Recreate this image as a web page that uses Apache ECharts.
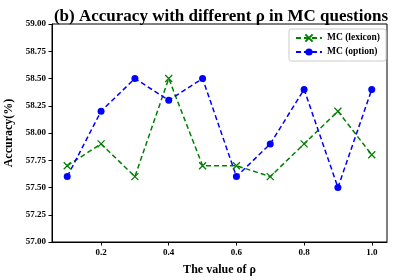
<!DOCTYPE html>
<html><head><meta charset="utf-8">
<script src="https://cdn.jsdelivr.net/npm/echarts@6/dist/echarts.min.js"></script>
<style>html,body{margin:0;padding:0;background:#fff}#c{width:397px;height:280px}</style>
</head><body><div id="c"></div>
<script>
const rhoValues = [0.1, 0.2, 0.3, 0.4, 0.5, 0.6, 0.7, 0.8, 0.9, 1.0];
const lexicon = [57.7, 57.9, 57.6, 58.5, 57.7, 57.7, 57.6, 57.9, 58.2, 57.8];
const option = [57.6, 58.2, 58.5, 58.3, 58.5, 57.6, 57.9, 58.4, 57.5, 58.4];
const xTicks = [0.2, 0.4, 0.6, 0.8, 1.0];
const seriesNames = ['MC (lexicon)', 'MC (option)'];

const font = 'Liberation Serif';
const chart = echarts.init(document.getElementById('c'), null, {renderer: 'canvas'});
const pair = (ys) => rhoValues.map((x, i) => [x, ys[i]]);
chart.setOption({
  animation: false,
  textStyle: {fontFamily: font},
  title: {
    text: '(b) Accuracy with different ρ in MC questions',
    left: 216, textAlign: 'center', top: 3,
    textStyle: {fontFamily: font, fontWeight: 'bold', fontSize: 17, color: '#000'}
  },
  grid: {left: 52, right: 10, top: 24, bottom: 38, show: true, borderColor: '#000', borderWidth: 1, outerBoundsMode: 'none', containLabel: false},
  legend: {
    right: 11, top: 29, orient: 'vertical',
    backgroundColor: '#fff', borderColor: '#ccc', borderWidth: 1, borderRadius: 2,
    padding: [4, 6, 4, 6], itemGap: 4, itemWidth: 26, itemHeight: 9,
    textStyle: {fontFamily: font, fontWeight: 'bold', fontSize: 9.5, color: '#000'},
    data: seriesNames
  },
  xAxis: {
    type: 'value', min: 0.055, max: 1.045,
    name: 'The value of ρ', nameLocation: 'middle', nameGap: 22,
    nameTextStyle: {fontFamily: font, fontWeight: 'bold', fontSize: 12, color: '#000'},
    axisLine: {show: true, lineStyle: {color: '#000'}},
    axisTick: {show: true, customValues: xTicks, length: 3.5, lineStyle: {color: '#000'}},
    axisLabel: {customValues: xTicks, formatter: v => v.toFixed(1), fontFamily: font, fontWeight: 'bold', fontSize: 9, color: '#000', margin: 6},
    splitLine: {show: false}
  },
  yAxis: {
    type: 'value', min: 57, max: 59, interval: 0.25,
    name: 'Accuracy(%)', nameLocation: 'middle', nameGap: 32,
    nameTextStyle: {fontFamily: font, fontWeight: 'bold', fontSize: 12, color: '#000'},
    axisLine: {show: true, lineStyle: {color: '#000'}},
    axisTick: {show: true, length: 3.5, lineStyle: {color: '#000'}},
    axisLabel: {formatter: v => v.toFixed(2), fontFamily: font, fontWeight: 'bold', fontSize: 9, color: '#000', margin: 6},
    splitLine: {show: false}
  },
  series: [
    {
      name: seriesNames[0], type: 'line', data: pair(lexicon),
      symbol: 'path://M0,0L10,10M10,0L0,10', symbolSize: 7,
      itemStyle: {color: '#008000', borderColor: '#008000', borderWidth: 1.3},
      lineStyle: {color: '#008000', width: 1.5, type: [5, 3]}
    },
    {
      name: seriesNames[1], type: 'line', data: pair(option),
      symbol: 'circle', symbolSize: 7,
      itemStyle: {color: '#0000ff', borderWidth: 0},
      lineStyle: {color: '#0000ff', width: 1.5, type: [5, 3]}
    }
  ]
});
</script></body></html>
